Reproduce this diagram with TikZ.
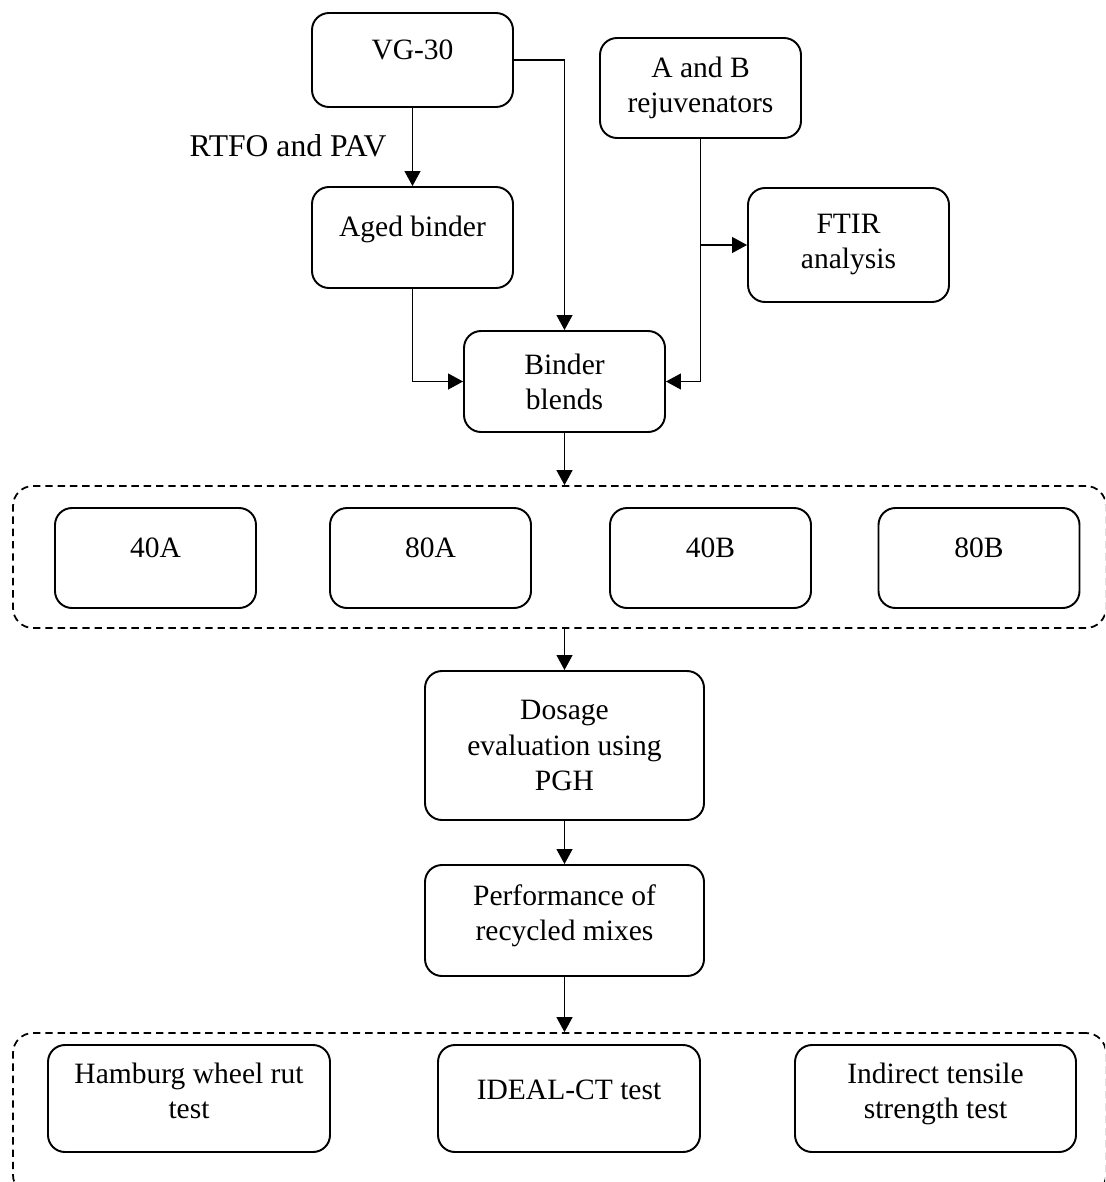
\documentclass[tikz,border=0pt]{standalone}
\usepackage{fontspec}
\setmainfont{Liberation Serif}
\usetikzlibrary{arrows.meta}

\begin{document}
\begin{tikzpicture}[
  font=\fontsize{16.8}{20}\selectfont,
  box/.style={draw,line width=1.1pt,rounded corners=0.34cm,align=center,minimum width=4.02cm,minimum height=2cm,inner sep=2pt},
  lifted/.style={text depth=#1},
  group/.style={draw,line width=1pt,dash pattern=on 4.2pt off 2.8pt,rounded corners=0.4cm},
  link/.style={line width=0.6pt,-{Triangle[length=0.3cm,width=0.32cm]}},
  line/.style={line width=0.6pt}
]
\clip (0,0) rectangle (22.1,-23.64);

\node[box,lifted=0.4cm,minimum height=1.88cm] (vg) at (8.25,-1.2) {VG-30};
\node[box] (rejuv) at (14.01,-1.76) {A and B\\rejuvenators};
\node[box,lifted=0.45cm,minimum height=2.02cm] (aged) at (8.25,-4.75) {Aged binder};
\node[box,lifted=0.15cm,minimum height=2.28cm] (ftir) at (16.97,-4.9) {FTIR\\analysis};
\node[box,minimum height=2.02cm] (blend) at (11.29,-7.63) {Binder\\blends};

\node[font=\fontsize{18}{21}\selectfont] (aging) at (5.76,-2.92) {RTFO and PAV};

% rejuvenated blends
\node[group,minimum width=21.86cm,minimum height=2.84cm] (blendset) at (11.19,-11.14) {};
\node[box,lifted=0.4cm] (b40a) at (3.11,-11.16) {40A};
\node[box,lifted=0.4cm] (b80a) at (8.61,-11.16) {80A};
\node[box,lifted=0.4cm] (b40b) at (14.21,-11.16) {40B};
\node[box,lifted=0.4cm] (b80b) at (19.58,-11.16) {80B};

\node[box,minimum width=5.58cm,minimum height=2.98cm] (dose) at (11.29,-14.91) {Dosage\\evaluation using\\PGH};
\node[box,lifted=0.3cm,minimum width=5.58cm,minimum height=2.22cm] (perf) at (11.29,-18.41) {Performance of\\recycled mixes};

% mixture tests
\node[group,minimum width=21.86cm,minimum height=3.24cm] (testset) at (11.19,-22.28) {};
\node[box,lifted=0.3cm,minimum width=5.64cm,minimum height=2.14cm] (hwt) at (3.78,-21.97) {Hamburg wheel rut\\test};
\node[box,lifted=0.35cm,minimum width=5.24cm,minimum height=2.14cm] (ideal) at (11.38,-21.97) {IDEAL-CT test};
\node[box,lifted=0.3cm,minimum width=5.62cm,minimum height=2.14cm] (itst) at (18.71,-21.97) {Indirect tensile\\strength test};

\draw[link] (vg) -- (aged);
\draw[link] (vg.east) -| (blend.north);
\draw[link] (aged.south) |- (blend.west);
\draw[link] (rejuv.south) |- (blend.east);
\draw[link] (rejuv.south |- ftir.west) -- (ftir.west);
\draw[link] (blend.south) -- (blend.south |- blendset.north);
\draw[link] (blend.south |- blendset.south) -- (dose.north);
\draw[link] (dose) -- (perf);
\draw[link] (perf.south) -- (perf.south |- testset.north);
\end{tikzpicture}
\end{document}
